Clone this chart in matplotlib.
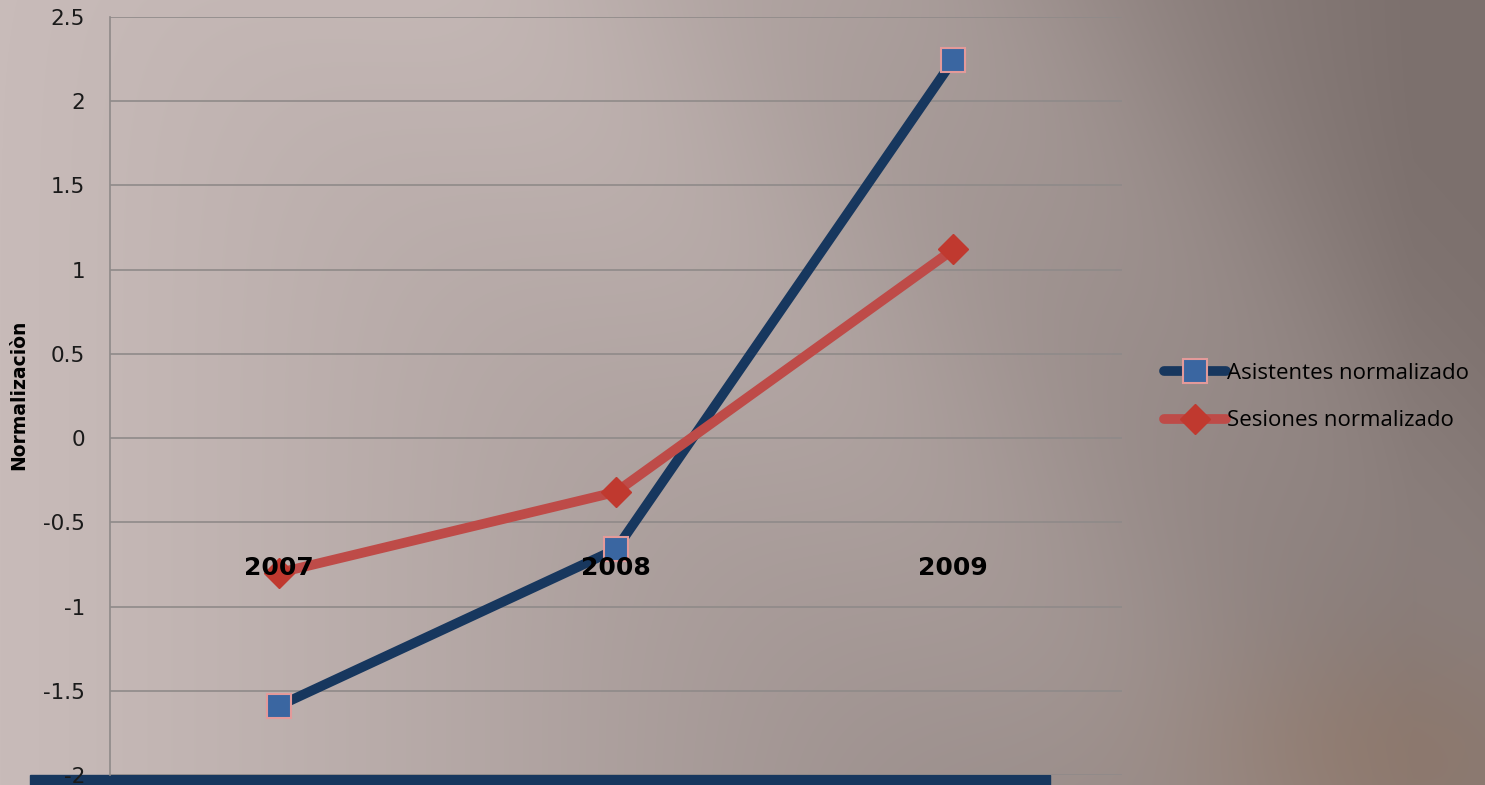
import numpy as np
import matplotlib
matplotlib.use("Agg")
import matplotlib.pyplot as plt
from matplotlib.transforms import blended_transform_factory

years = ["2007", "2008", "2009"]
asistentes = [-1.59, -0.66, 2.245]
sesiones = [-0.80, -0.32, 1.12]
yticks = [2.5, 2, 1.5, 1, 0.5, 0, -0.5, -1, -1.5, -2]
ytick_labels = ["2.5", "2", "1.5", "1", "0.5", "0", "-0.5", "-1", "-1.5", "-2"]

W, H = 1485, 785
fig = plt.figure(figsize=(W / 100, H / 100), dpi=100)

# background
bg = fig.add_axes([0, 0, 1, 1])
bg.set_axis_off()
xn = np.linspace(0, 1, W)[None, :] * np.ones((H, 1))
yn = np.linspace(0, 1, H)[:, None] * np.ones((1, W))
left = np.array([200, 187, 185]) / 255
right = np.array([124, 112, 109]) / 255
t = np.clip(xn * 1.05, 0, 1) ** 1.2
img = left[None, None, :] * (1 - t[..., None]) + right[None, None, :] * t[..., None]
d = (xn * W - 0.9 * yn * H - 520) / 260
streak = np.exp(-d ** 2) * 0.06
d2 = (xn * W - 0.9 * yn * H - 950) / 200
streak += np.exp(-d2 ** 2) * 0.05
img = np.clip(img + streak[..., None], 0, 1)
blob = np.exp(-(((xn * W - 1380) / 200) ** 2 + ((yn * H - 760) / 110) ** 2))
img = img * (1 - 0.35 * blob[..., None]) + np.array([150, 115, 90])[None, None, :] / 255 * 0.35 * blob[..., None]
bg.imshow(img, aspect="auto", extent=[0, 1, 0, 1], zorder=0)
bg.set_xlim(0, 1)
bg.set_ylim(0, 1)

# blue bar at bottom
bg.add_patch(plt.Rectangle((30 / W, 0), (1050 - 30) / W, 10 / H,
                           color="#17375E", zorder=2, transform=bg.transAxes))

ax = fig.add_axes([110 / W, 10 / H, (1122 - 110) / W, (775 - 17) / H])
ax.patch.set_alpha(0)
x = np.arange(len(years))
ax.set_xlim(-0.5, len(years) - 0.5)
ax.set_ylim(-2, 2.5)
ax.set_yticks(yticks)
ax.set_yticklabels(ytick_labels, fontsize=15.5, family="DejaVu Sans", color="#1a1a1a")
ax.set_xticks([])
ax.grid(axis="y", color="#8f8a89", linewidth=1.2)
ax.set_axisbelow(True)
for s in ["top", "right", "bottom"]:
    ax.spines[s].set_visible(False)
ax.spines["left"].set_color("#8f8a89")
ax.spines["left"].set_linewidth(1.2)
ax.tick_params(axis="y", length=0, pad=18)
ax.set_ylabel("Normalizaciòn", fontsize=13.5, fontweight="bold", family="DejaVu Sans")
ax.yaxis.set_label_coords((28 - 110) / 1012, (775 - 395) / 758)

l1, = ax.plot(x, asistentes, color="#17375E", linewidth=7, marker="s", markersize=17,
              markerfacecolor="#3A66A1", markeredgecolor="#E39A9A", markeredgewidth=1.5,
              solid_capstyle="round", label="Asistentes normalizado", zorder=3)
l2, = ax.plot(x, sesiones, color="#BE4B48", linewidth=7, marker="D", markersize=15,
              markerfacecolor="#C0392F", markeredgecolor="#C0392F",
              solid_capstyle="round", label="Sesiones normalizado", zorder=3)

tr = blended_transform_factory(ax.transData, ax.transData)
for xi, lab in zip(x, years):
    ax.text(xi, -0.77, lab, ha="center", va="center", fontsize=18, fontweight="bold",
            color="black", zorder=5, transform=tr)

fig.legend(handles=[l1, l2], loc="center left", bbox_to_anchor=(1155 / W, 1 - 397 / H),
           frameon=False, handlelength=2.8, labelspacing=1.2,
           handletextpad=0.05, borderaxespad=0, prop={"family": "Open Sans", "size": 16})

fig.savefig("out.png", dpi=100)
